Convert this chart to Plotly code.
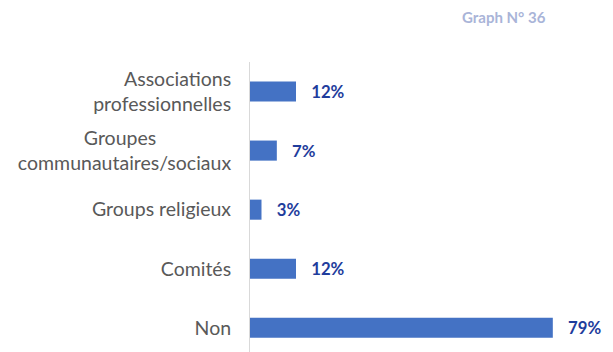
import plotly.graph_objects as go

# Trailing no-break spaces keep the short first line of the wrapped label
# sitting left of the right edge, like a centred wrap
pad = "\u00a0" * 15

# Categories listed bottom to top so "Non" sits at the bottom of the axis
categories = ["Non", "Comités", "Groups religieux",
              "Groupes" + pad + "<br>communautaires/sociaux",
              "Associations<br>professionnelles"]
values = [79, 12, 3, 7, 12]
# a little breathing room between each bar end and its value label
value_labels = ["\u00a0\u00a0\u00a0" + f"{v}%" for v in values]

bar_color = "#4472C4"
label_color = "#1F3D9C"
tick_color = "#595959"

fig = go.Figure(
    go.Bar(
        x=values,
        y=list(range(len(categories))),
        orientation="h",
        marker=dict(color=bar_color, line=dict(width=0)),
        width=0.34,
        text=value_labels,
        textposition="outside",
        cliponaxis=False,
        textfont=dict(family="Lato", size=20, color=label_color, weight="bold"),
    )
)

fig.update_layout(
    width=613,
    height=352,
    margin=dict(l=250, r=0, t=62, b=0),
    paper_bgcolor="white",
    plot_bgcolor="white",
    showlegend=False,
    font=dict(family="Lato", color=tick_color),
    xaxis=dict(range=[0, 94.7], visible=False, fixedrange=True),
    yaxis=dict(
        range=[-0.41, 4.5],
        tickmode="array",
        tickvals=list(range(len(categories))),
        ticktext=categories,
        tickfont=dict(family="Lato", size=19.5, color=tick_color),
        ticks="",
        ticklabelstandoff=14,
        showgrid=False,
        zeroline=False,
        showline=True,
        linecolor="#D9D9D9",
        linewidth=1,
    ),
    annotations=[
        dict(
            text="Graph N° 36",
            xref="paper", yref="paper",
            x=1, y=1,
            xanchor="right", yanchor="middle",
            xshift=-65, yshift=45,
            showarrow=False,
            font=dict(family="Lato", size=15, color="#A9B4D8", weight="bold"),
        )
    ],
)

fig.write_html("out.html")
